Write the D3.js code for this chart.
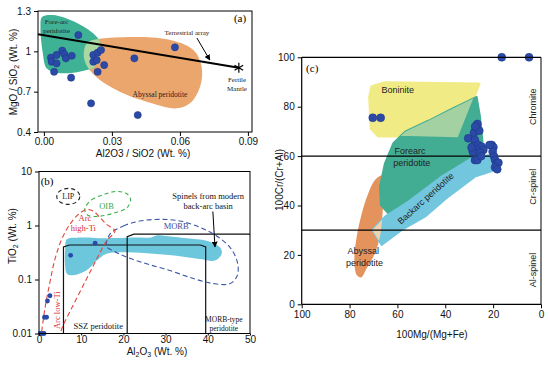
<!DOCTYPE html>
<html><head><meta charset="utf-8">
<script src="https://cdn.jsdelivr.net/npm/d3@7"></script>
<style>body{margin:0;background:#fff}svg{display:block;font-family:"Liberation Sans",Arial,sans-serif}</style>
</head><body><svg id="c" width="550" height="366"></svg>
<script>
// ---------------- DATA ----------------
// Panel (a)
const aAl2O3 = [0.0152,0.0031,0.0034,0.0056,0.0056,0.0045,0.0081,0.0090,0.0097,0.0123,0.0120,0.0218,0.0237,0.0252,0.0218,0.0233,0.0266,0.0237,0.0208,0.0399,0.0578,0.0414];
const aMgO   = [1.121,0.953,0.923,0.973,0.911,0.848,1.005,0.980,0.948,0.967,0.804,0.973,0.990,1.010,0.923,0.935,0.898,0.848,0.613,0.948,1.030,0.526];
const aTicksX = [0,0.03,0.06,0.09];
const aTicksY = [0.4,0.7,1,1.3];
const aForearc = [[-0.0008,1.255],[0.0040,1.27],[0.0146,1.211],[0.0234,1.107],[0.0252,1.035],[0.0225,0.886],[0.0189,0.861],[0.0130,0.841],[0.0056,0.841],[0.0012,0.874],[-0.0005,0.99],[-0.0015,1.181]];
const aAbyssal = [[0.0233,1.089],[0.0336,1.104],[0.0542,1.089],[0.0659,1.01],[0.0696,0.886],[0.0689,0.737],[0.0644,0.613],[0.0586,0.576],[0.0453,0.625],[0.0350,0.688],[0.0247,0.787],[0.0196,0.874],[0.0177,0.948],[0.0181,1.034],[0.0196,1.069]];
const aTerrestrial = [[-0.0026,1.127],[0.086,0.878]];
const aFertile = [0.086,0.878];
const aArrow = [[0.0675,1.099],[0.0732,0.935]];

// Panel (b)
const bAl2O3 = [13.3,7.5,2.6,2.0,1.8,1.3,1.2,0.8,0.3];
const bTiO2  = [0.47,0.28,0.05,0.04,0.02,0.02,0.01,0.01,0.01];
const bTicksX = [0,10,20,30,40,50];
const bTicksY = [0.01,0.1,1,10];
const bBackArc = [[6.6,0.556],[9.7,0.597],[16.0,0.58],[22.3,0.597],[26.5,0.60],[28.0,0.66],[30.0,0.64],[35.0,0.58],[39.7,0.52],[42.9,0.39],[43.3,0.30],[41.7,0.224],[38.2,0.24],[33.4,0.27],[27.1,0.30],[20.8,0.32],[16.0,0.30],[13.7,0.224],[11.3,0.148],[8.1,0.12],[6.6,0.128],[6.2,0.18],[6.2,0.37]];
const bMORB = [[16.8,0.69],[20.0,0.98],[23.9,1.21],[28.7,1.30],[33.4,1.21],[38.2,0.92],[42.1,0.64],[45.3,0.39],[47.0,0.21],[47.0,0.119],[45.3,0.084],[41.3,0.084],[36.6,0.104],[31.0,0.147],[25.5,0.195],[20.8,0.26],[17.6,0.34],[16.0,0.41]];
const bOIB = [[10.9,2.12],[12.5,3.01],[15.2,3.72],[18.4,4.28],[20.8,3.88],[21.7,3.01],[20.8,2.12],[18.0,1.72],[14.5,1.49],[11.7,1.53],[10.9,1.84]];
const bArc = [[0.64,0.011],[1.42,0.0294],[2.6,0.090],[3.8,0.241],[5.4,0.56],[7.3,1.05],[9.3,1.6],[11.3,1.98],[12.9,1.84],[14.5,1.39],[16.0,1.05],[18.0,0.79],[16.0,0.52],[14.1,0.277],[12.1,0.138],[10.1,0.068],[7.7,0.029],[5.8,0.0146],[5.0,0.01]];
const bLIP = [6.94,3.46];
const bSSZ = [[5.8,0.01],[5.8,0.40],[7.2,0.435],[38.3,0.435],[39.5,0.40],[39.5,0.01]];
const bMORBbox = [[20.9,0.01],[20.9,0.62],[22.5,0.69],[50,0.69]];
const bArrow = [[41.2,1.82],[41.7,0.40]];

// Panel (c)
const cMg = [16.4,5.0,70.3,67.0,26.6,27.2,28.0,25.8,30.4,27.6,28.3,26.2,24.8,24.1,26.9,28.5,25.5,27.6,26.6,20.6,19.9,20.2,19.6,19.2,18.5,17.8,19.2,18.3,29.0,21.5,27.5,25.0];
const cCr = [100,100,75.5,75.5,73.0,70.8,69.5,70.3,67.2,66.5,64.1,64.5,63.8,62.5,62.5,61.8,61.4,58.4,58.4,64.5,63.6,61.8,59.8,58.4,57.1,57.3,55.5,54.7,63.5,64.5,72.0,60.0];
const cTicksX = [100,80,60,40,20,0];
const cTicksY = [0,20,40,60,80,100];
const cBoninite = [[70.7,88.1],[65.2,89.7],[25.9,89.2],[34.8,67.6],[55.5,68.1],[68.0,68.1],[71.0,71.3],[71.6,84.0]];
const cForearc = [[26.9,84.0],[25.5,76.0],[24.5,66.5],[24.1,59.8],[29.0,58.4],[63.8,36.8],[66.9,40.2],[67.3,47.6],[65.2,57.1],[61.7,65.2],[56.8,69.9],[47.1,74.3],[37.3,79.1]];
const cBackarc = [[22.0,60.4],[18.5,57.1],[19.2,54.4],[27.6,51.7],[38.7,43.6],[48.5,35.5],[58.2,30.1],[66.6,24.0],[70.5,30.1],[65.2,35.5],[55.5,41.5],[41.5,51.7],[29.0,59.1]];
const cAbyssal = [[66.6,52.1],[69.4,50.3],[72.2,44.9],[74.9,36.8],[77.0,27.4],[78.0,17.9],[77.0,11.9],[75.2,10.9],[72.8,14.6],[69.4,20.6],[67.3,27.4],[66.3,35.5],[65.9,46.3]];
const cLines = [60,30];

// ---------------- DRAW ----------------
const svg = d3.select("#c");
svg.append("rect").attr("width",550).attr("height",366).attr("fill","#fff");
const defs = svg.append("defs");
defs.append("marker").attr("id","ah").attr("viewBox","0 0 10 10").attr("refX",9).attr("refY",5)
  .attr("markerWidth",6).attr("markerHeight",6).attr("orient","auto")
  .append("path").attr("d","M0,0L10,5L0,10z").attr("fill","#000");

const serif = '"Liberation Serif","Times New Roman",serif';
const sans = '"Liberation Sans",Arial,sans-serif';
const DOT = "#2b49a6", DOTS = "#1d3585";

function styleAxis(g){
  g.selectAll("path.domain").remove();
  g.selectAll("line").attr("stroke","#000");
  g.selectAll("text").attr("font-size",10).attr("fill","#111").attr("font-family",sans);
}
function txt(g,x,y,s,opt){
  opt=opt||{};
  const t=g.append("text").attr("x",x).attr("y",y).attr("text-anchor",opt.anchor||"middle")
    .attr("dy","0.35em").attr("font-size",opt.size||8).attr("fill",opt.fill||"#222")
    .style("font-family",opt.family||serif).text(s);
  if(opt.rot!==undefined) t.attr("transform",`rotate(${opt.rot},${x},${y})`);
  return t;
}

// ===== Panel (a)
const xA = d3.scaleLinear().domain([-0.0026,0.0918]).range([38,252]);
const yA = d3.scaleLinear().domain([0.4,1.3]).range([132,11]);
const gA = svg.append("g");
const smA = d3.line().x(d=>xA(d[0])).y(d=>yA(d[1])).curve(d3.curveCatmullRomClosed.alpha(0.5));
defs.append("clipPath").attr("id","clipAby").append("path").attr("d",smA(aAbyssal));
gA.append("path").attr("d",smA(aAbyssal)).attr("fill","#eba66e");
gA.append("path").attr("d",smA(aForearc)).attr("fill","#3fb195");
gA.append("path").attr("d",smA(aForearc)).attr("fill","#abd7a3").attr("clip-path","url(#clipAby)");
gA.append("line").attr("x1",xA(aTerrestrial[0][0])).attr("y1",yA(aTerrestrial[0][1]))
  .attr("x2",xA(aTerrestrial[1][0])).attr("y2",yA(aTerrestrial[1][1])).attr("stroke","#000").attr("stroke-width",2);
const ast = d3.symbolAsterisk || d3.symbolCross;
gA.append("path").attr("d",d3.symbol(ast,70)()).attr("transform",`translate(${xA(aFertile[0])},${yA(aFertile[1])})`)
  .attr("fill","none").attr("stroke","#000").attr("stroke-width",1.2);
gA.append("line").attr("x1",xA(aArrow[0][0])).attr("y1",yA(aArrow[0][1]))
  .attr("x2",xA(aArrow[1][0])).attr("y2",yA(aArrow[1][1])).attr("stroke","#000").attr("stroke-width",1).attr("marker-end","url(#ah)");
gA.selectAll("circle").data(aAl2O3).join("circle").attr("cx",d=>xA(d)).attr("cy",(d,i)=>yA(aMgO[i]))
  .attr("r",3.6).attr("fill",DOT).attr("stroke",DOTS).attr("stroke-width",0.5);
gA.append("rect").attr("x",38).attr("y",yA(1.3)).attr("width",214).attr("height",yA(0.4)-yA(1.3))
  .attr("fill","none").attr("stroke","#000").attr("stroke-width",1);
gA.append("g").attr("transform","translate(0,132)").call(d3.axisBottom(xA).tickValues(aTicksX).tickFormat(d3.format(".2f")).tickSize(4).tickPadding(2)).call(styleAxis);
gA.append("g").attr("transform","translate(38,0)").call(d3.axisLeft(yA).tickValues(aTicksY).tickFormat(d=>String(d)).tickSize(4)).call(styleAxis);
txt(gA,xA(0.0056),yA(1.22),"Fore-arc",{size:7});
txt(gA,xA(0.0056),yA(1.153),"peridotite",{size:7});
txt(gA,xA(0.0631),yA(1.136),"Terrestrial array",{size:7});
txt(gA,xA(0.0512),yA(0.682),"Abyssal peridotite",{size:7.5});
txt(gA,xA(0.0852),yA(0.787),"Fertile",{size:7});
txt(gA,xA(0.0852),yA(0.72),"Mantle",{size:7});
txt(gA,xA(0.0865),yA(1.245),"(a)",{size:11,fill:"#000"});
gA.append("text").attr("x",143).attr("y",157).attr("text-anchor","middle").attr("font-size",10).attr("fill","#111").text("Al2O3 / SiO2 (Wt. %)");
const ya = gA.append("text").attr("transform","translate(17,72) rotate(-90)").attr("text-anchor","middle").attr("font-size",10).attr("fill","#111");
ya.append("tspan").text("MgO / SiO");
ya.append("tspan").attr("font-size",7).attr("dy",2).text("2");
ya.append("tspan").attr("dy",-2).text(" (Wt. %)");

// ===== Panel (b)
const xB = d3.scaleLinear().domain([0,50]).range([39,250]);
const yB = d3.scaleLog().domain([0.01,10]).range([333.5,171.5]);
const gB = svg.append("g");
const smB = d3.line().x(d=>xB(d[0])).y(d=>yB(d[1])).curve(d3.curveCatmullRomClosed.alpha(0.5));
const opB = d3.line().x(d=>xB(d[0])).y(d=>yB(d[1])).curve(d3.curveCatmullRom.alpha(0.5));
const lnB = d3.line().x(d=>xB(d[0])).y(d=>yB(d[1]));
gB.append("path").attr("d",smB(bBackArc)).attr("fill","#6cc6dc");
gB.append("path").attr("d",lnB(bSSZ)).attr("fill","none").attr("stroke","#111").attr("stroke-width",1.2);
gB.append("path").attr("d",lnB(bMORBbox)).attr("fill","none").attr("stroke","#111").attr("stroke-width",1.2);
gB.append("path").attr("d",smB(bMORB)).attr("fill","none").attr("stroke","#3a57a3").attr("stroke-width",1.1).attr("stroke-dasharray","5,3");
gB.append("path").attr("d",smB(bOIB)).attr("fill","none").attr("stroke","#3dae4c").attr("stroke-width",1.1).attr("stroke-dasharray","4,3");
gB.append("path").attr("d",opB(bArc)).attr("fill","none").attr("stroke","#e0463c").attr("stroke-width",1.1).attr("stroke-dasharray","5,3");
gB.append("ellipse").attr("cx",xB(bLIP[0])).attr("cy",yB(bLIP[1])).attr("rx",11.5).attr("ry",8)
  .attr("fill","none").attr("stroke","#222").attr("stroke-width",1.1).attr("stroke-dasharray","4,3");
gB.append("line").attr("x1",xB(bArrow[0][0])).attr("y1",yB(bArrow[0][1])).attr("x2",xB(bArrow[1][0])).attr("y2",yB(bArrow[1][1]))
  .attr("stroke","#000").attr("stroke-width",1).attr("marker-end","url(#ah)");
gB.selectAll("circle").data(bAl2O3).join("circle").attr("cx",d=>xB(d)).attr("cy",(d,i)=>yB(bTiO2[i]))
  .attr("r",2.4).attr("fill",DOT);
gB.append("rect").attr("x",39).attr("y",171.5).attr("width",211).attr("height",333.5-171.5)
  .attr("fill","none").attr("stroke","#000").attr("stroke-width",1);
gB.append("g").attr("transform","translate(0,333.5)").call(d3.axisBottom(xB).tickValues(bTicksX).tickFormat(d3.format("d")).tickSize(2).tickPadding(0)).call(styleAxis);
gB.append("g").attr("transform","translate(39,0)").call(d3.axisLeft(yB).tickValues(bTicksY).tickFormat(d=>String(d)).tickSize(4)).call(styleAxis);
txt(gB,xB(0.4),yB(6.5),"(b)",{size:11,fill:"#000",anchor:"start"});
txt(gB,xB(bLIP[0]),yB(bLIP[1]),"LIP",{size:8});
txt(gB,xB(16),yB(2.27),"OIB",{size:8.5,fill:"#3aa84a"});
txt(gB,xB(10.9),yB(1.39),"Arc",{size:8.5,fill:"#d9302c"});
txt(gB,xB(10.5),yB(0.916),"high-Ti",{size:8.5,fill:"#d9302c"});
txt(gB,xB(4.34),yB(0.027),"Arc low-Ti",{size:8.5,fill:"#d9302c",rot:-90});
txt(gB,xB(32.5),yB(0.98),"MORB",{size:8.5,fill:"#3b4fa0"});
txt(gB,xB(40.1),yB(3.56),"Spinels from modern",{size:8.5,fill:"#111"});
txt(gB,xB(40.1),yB(2.27),"back-arc basin",{size:8.5,fill:"#111"});
txt(gB,xB(14.05),yB(0.0138),"SSZ peridotite",{size:8.5,fill:"#111"});
txt(gB,xB(43.8),yB(0.0182),"MORB-type",{size:7.5,fill:"#111"});
txt(gB,xB(43.8),yB(0.0125),"peridotite",{size:7.5,fill:"#111"});
const xb = gB.append("text").attr("x",157).attr("y",354.5).attr("text-anchor","middle").attr("font-size",10).attr("fill","#111");
xb.append("tspan").text("Al");
xb.append("tspan").attr("font-size",7).attr("dy",2).text("2");
xb.append("tspan").attr("dy",-2).text("O");
xb.append("tspan").attr("font-size",7).attr("dy",2).text("3");
xb.append("tspan").attr("dy",-2).text(" (Wt. %)");
const yb = gB.append("text").attr("transform","translate(16,236) rotate(-90)").attr("text-anchor","middle").attr("font-size",10).attr("fill","#111");
yb.append("tspan").text("TiO");
yb.append("tspan").attr("font-size",7).attr("dy",2).text("2");
yb.append("tspan").attr("dy",-2).text(" (Wt. %)");

// ===== Panel (c)
const xC = d3.scaleLinear().domain([100,0]).range([301.7,541]);
const yC = d3.scaleLinear().domain([0,100]).range([304.3,57.3]);
const gC = svg.append("g");
const lnC = d3.line().x(d=>xC(d[0])).y(d=>yC(d[1])).curve(d3.curveLinearClosed);
const smC = d3.line().x(d=>xC(d[0])).y(d=>yC(d[1])).curve(d3.curveCatmullRomClosed.alpha(0.5));
defs.append("clipPath").attr("id","clipBon").append("path").attr("d",lnC(cBoninite));
defs.append("clipPath").attr("id","clipAbyC").append("path").attr("d",smC(cAbyssal));
gC.append("path").attr("d",smC(cAbyssal)).attr("fill","#e4935d");
gC.append("path").attr("d",lnC(cBoninite)).attr("fill","#f1eb86").attr("stroke","#f1eb86").attr("stroke-width",3).attr("stroke-linejoin","round");
gC.append("path").attr("d",lnC(cForearc)).attr("fill","#43ad93").attr("stroke","#43ad93").attr("stroke-width",2).attr("stroke-linejoin","round");
gC.append("path").attr("d",lnC(cForearc)).attr("fill","#a3d1a2").attr("clip-path","url(#clipBon)");
gC.append("path").attr("d",lnC(cBackarc)).attr("fill","#72c7df").attr("stroke","#72c7df").attr("stroke-width",2).attr("stroke-linejoin","round");
gC.append("path").attr("d",lnC(cBackarc)).attr("fill","#f3d2ae").attr("clip-path","url(#clipAbyC)");
gC.selectAll("line.h").data(cLines).join("line").attr("class","h").attr("x1",xC(100)).attr("x2",xC(0))
  .attr("y1",d=>yC(d)).attr("y2",d=>yC(d)).attr("stroke","#000").attr("stroke-width",1.2);
gC.selectAll("circle").data(cMg).join("circle").attr("cx",d=>xC(d)).attr("cy",(d,i)=>yC(cCr[i]))
  .attr("r",4).attr("fill",DOT).attr("stroke",DOTS).attr("stroke-width",0.5);
gC.append("line").attr("x1",xC(100)).attr("x2",xC(0)).attr("y1",yC(100)).attr("y2",yC(100)).attr("stroke","#000").attr("stroke-width",1.2);
gC.append("line").attr("x1",xC(0)).attr("x2",xC(0)).attr("y1",yC(100)).attr("y2",yC(0)).attr("stroke","#000").attr("stroke-width",1);
gC.append("line").attr("x1",xC(100)).attr("x2",xC(100)).attr("y1",yC(100)).attr("y2",yC(0)).attr("stroke","#000").attr("stroke-width",1.2);
gC.append("line").attr("x1",xC(100)).attr("x2",xC(0)).attr("y1",yC(0)).attr("y2",yC(0)).attr("stroke","#000").attr("stroke-width",1.2);
gC.append("g").attr("transform",`translate(0,${yC(0)})`).call(d3.axisBottom(xC).tickValues(cTicksX).tickFormat(d3.format("d")).tickSize(4)).call(styleAxis);
gC.append("g").attr("transform",`translate(${xC(100)},0)`).call(d3.axisLeft(yC).tickValues(cTicksY).tickFormat(d3.format("d")).tickSize(4)).call(styleAxis);
txt(gC,xC(95.6),yC(95.5),"(c)",{size:11,fill:"#000"});
txt(gC,xC(59.9),yC(86.8),"Boninite",{size:9,family:sans});
txt(gC,xC(54.7),yC(62.2),"Forearc",{size:9,family:sans});
txt(gC,xC(54.0),yC(57.3),"peridotite",{size:9,family:sans});
txt(gC,xC(48.2),yC(42.9),"Backarc peridotite",{size:9,family:sans,rot:-42});
txt(gC,xC(74.3),yC(21.7),"Abyssal",{size:9,family:sans});
txt(gC,xC(73.8),yC(16.8),"peridotite",{size:9,family:sans});
txt(gC,xC(3.2),yC(80),"Chromite",{size:9,family:sans,rot:-90});
txt(gC,xC(3.2),yC(47.6),"Cr-spinel",{size:9,family:sans,rot:-90});
txt(gC,xC(3.2),yC(13.9),"Al-spinel",{size:9,family:sans,rot:-90});
gC.append("text").attr("x",432).attr("y",338).attr("text-anchor","middle").attr("font-size",10).attr("fill","#111").text("100Mg/(Mg+Fe)");
gC.append("text").attr("transform","translate(283,180) rotate(-90)").attr("text-anchor","middle").attr("font-size",10).attr("fill","#111").text("100Cr/(Cr+Al)");
</script></body></html>
